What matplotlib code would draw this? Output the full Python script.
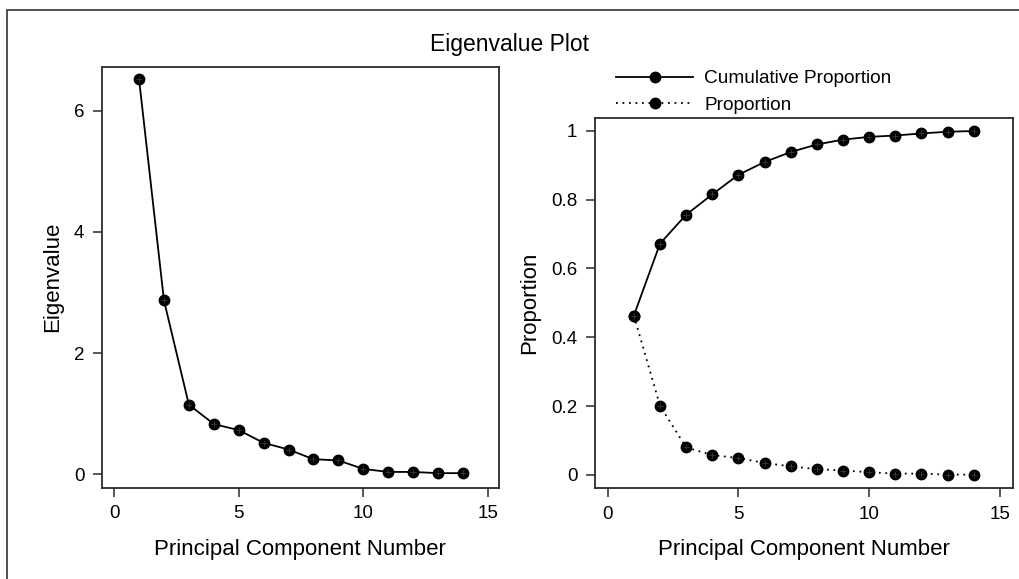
import numpy as np
import matplotlib
matplotlib.use('Agg')
import matplotlib.pyplot as plt
from matplotlib.patches import Rectangle

plt.rcParams['font.family'] = ['Liberation Sans', 'DejaVu Sans']

# principal components and their eigenvalues / proportions
components = np.arange(1, 15)
eigenvalues = [6.52, 2.87, 1.15, 0.83, 0.73, 0.52, 0.41, 0.25, 0.23, 0.09, 0.04, 0.04, 0.02, 0.02]
proportion = [0.463, 0.201, 0.080, 0.058, 0.049, 0.035, 0.025, 0.017, 0.013, 0.008, 0.004, 0.004, 0.001, 0.001]
cumulative = [0.463, 0.672, 0.756, 0.815, 0.872, 0.909, 0.938, 0.960, 0.974, 0.982, 0.986, 0.992, 0.997, 0.999]

xticks = [0, 5, 10, 15]
eig_ticks = [0, 2, 4, 6]
prop_ticks = [0, 0.2, 0.4, 0.6, 0.8, 1]
prop_ticklabels = ['0', '0.2', '0.4', '0.6', '0.8', '1']

frame_col = '#2b2b2b'

fig = plt.figure(figsize=(10.2, 5.79), dpi=100)
ax1 = fig.add_axes([0.0997, 0.1577, 0.3895, 0.7271])
ax2 = fig.add_axes([0.5830, 0.1567, 0.4098, 0.6390])


def style(ax):
    for s in ax.spines.values():
        s.set_color(frame_col)
        s.set_linewidth(1.3)
    ax.tick_params(direction='out', length=6.5, width=1.1, color=frame_col,
                   labelsize=13.5, pad=6)
    ax.set_xlabel('Principal Component Number', fontsize=16, labelpad=12)


def dots(ax, x, y, ls, label=None):
    ax.plot(x, y, color='black', lw=1.3, ls=ls, marker='o', ms=7.5,
            mfc='black', mec='black', label=label)
    ax.plot(x, y, ls='none', marker='+', ms=5, mew=0.6, color='#3a3a3a')


# scree plot
dots(ax1, components, eigenvalues, '-')
ax1.set_xlim(-0.5, 15.45)
ax1.set_ylim(-0.22, 6.726)
ax1.set_xticks(xticks)
ax1.set_yticks(eig_ticks)
ax1.set_ylabel('Eigenvalue', fontsize=16, labelpad=8)
style(ax1)

# variance explained
dots(ax2, components, cumulative, '-', 'Cumulative Proportion')
dots(ax2, components, proportion, (0, (1, 2.6)), 'Proportion')
ax2.set_xlim(-0.5, 15.49)
ax2.set_ylim(-0.0386, 1.036)
ax2.set_xticks(xticks)
ax2.set_yticks(prop_ticks)
ax2.set_yticklabels(prop_ticklabels)
ax2.set_ylabel('Proportion', fontsize=16, labelpad=8)
style(ax2)

ax2.legend(loc='upper left', bbox_to_anchor=(616 / 1020, 1 - 70 / 579),
           bbox_transform=fig.transFigure, frameon=False, fontsize=13.7,
           handlelength=4.05, handletextpad=0.6, borderpad=0, borderaxespad=0,
           labelspacing=0.5, numpoints=1)

fig.text(0.5, 1 - 45 / 579, 'Eigenvalue Plot', ha='center', va='center', fontsize=16.5)

# outer border of the graph area
fig.patches.append(Rectangle((7 / 1020, -0.2), 1.5, 1.2 - 10.3 / 579,
                             transform=fig.transFigure, fill=False,
                             lw=1.2, ec='#333333'))

fig.savefig('out.png', dpi=100)
